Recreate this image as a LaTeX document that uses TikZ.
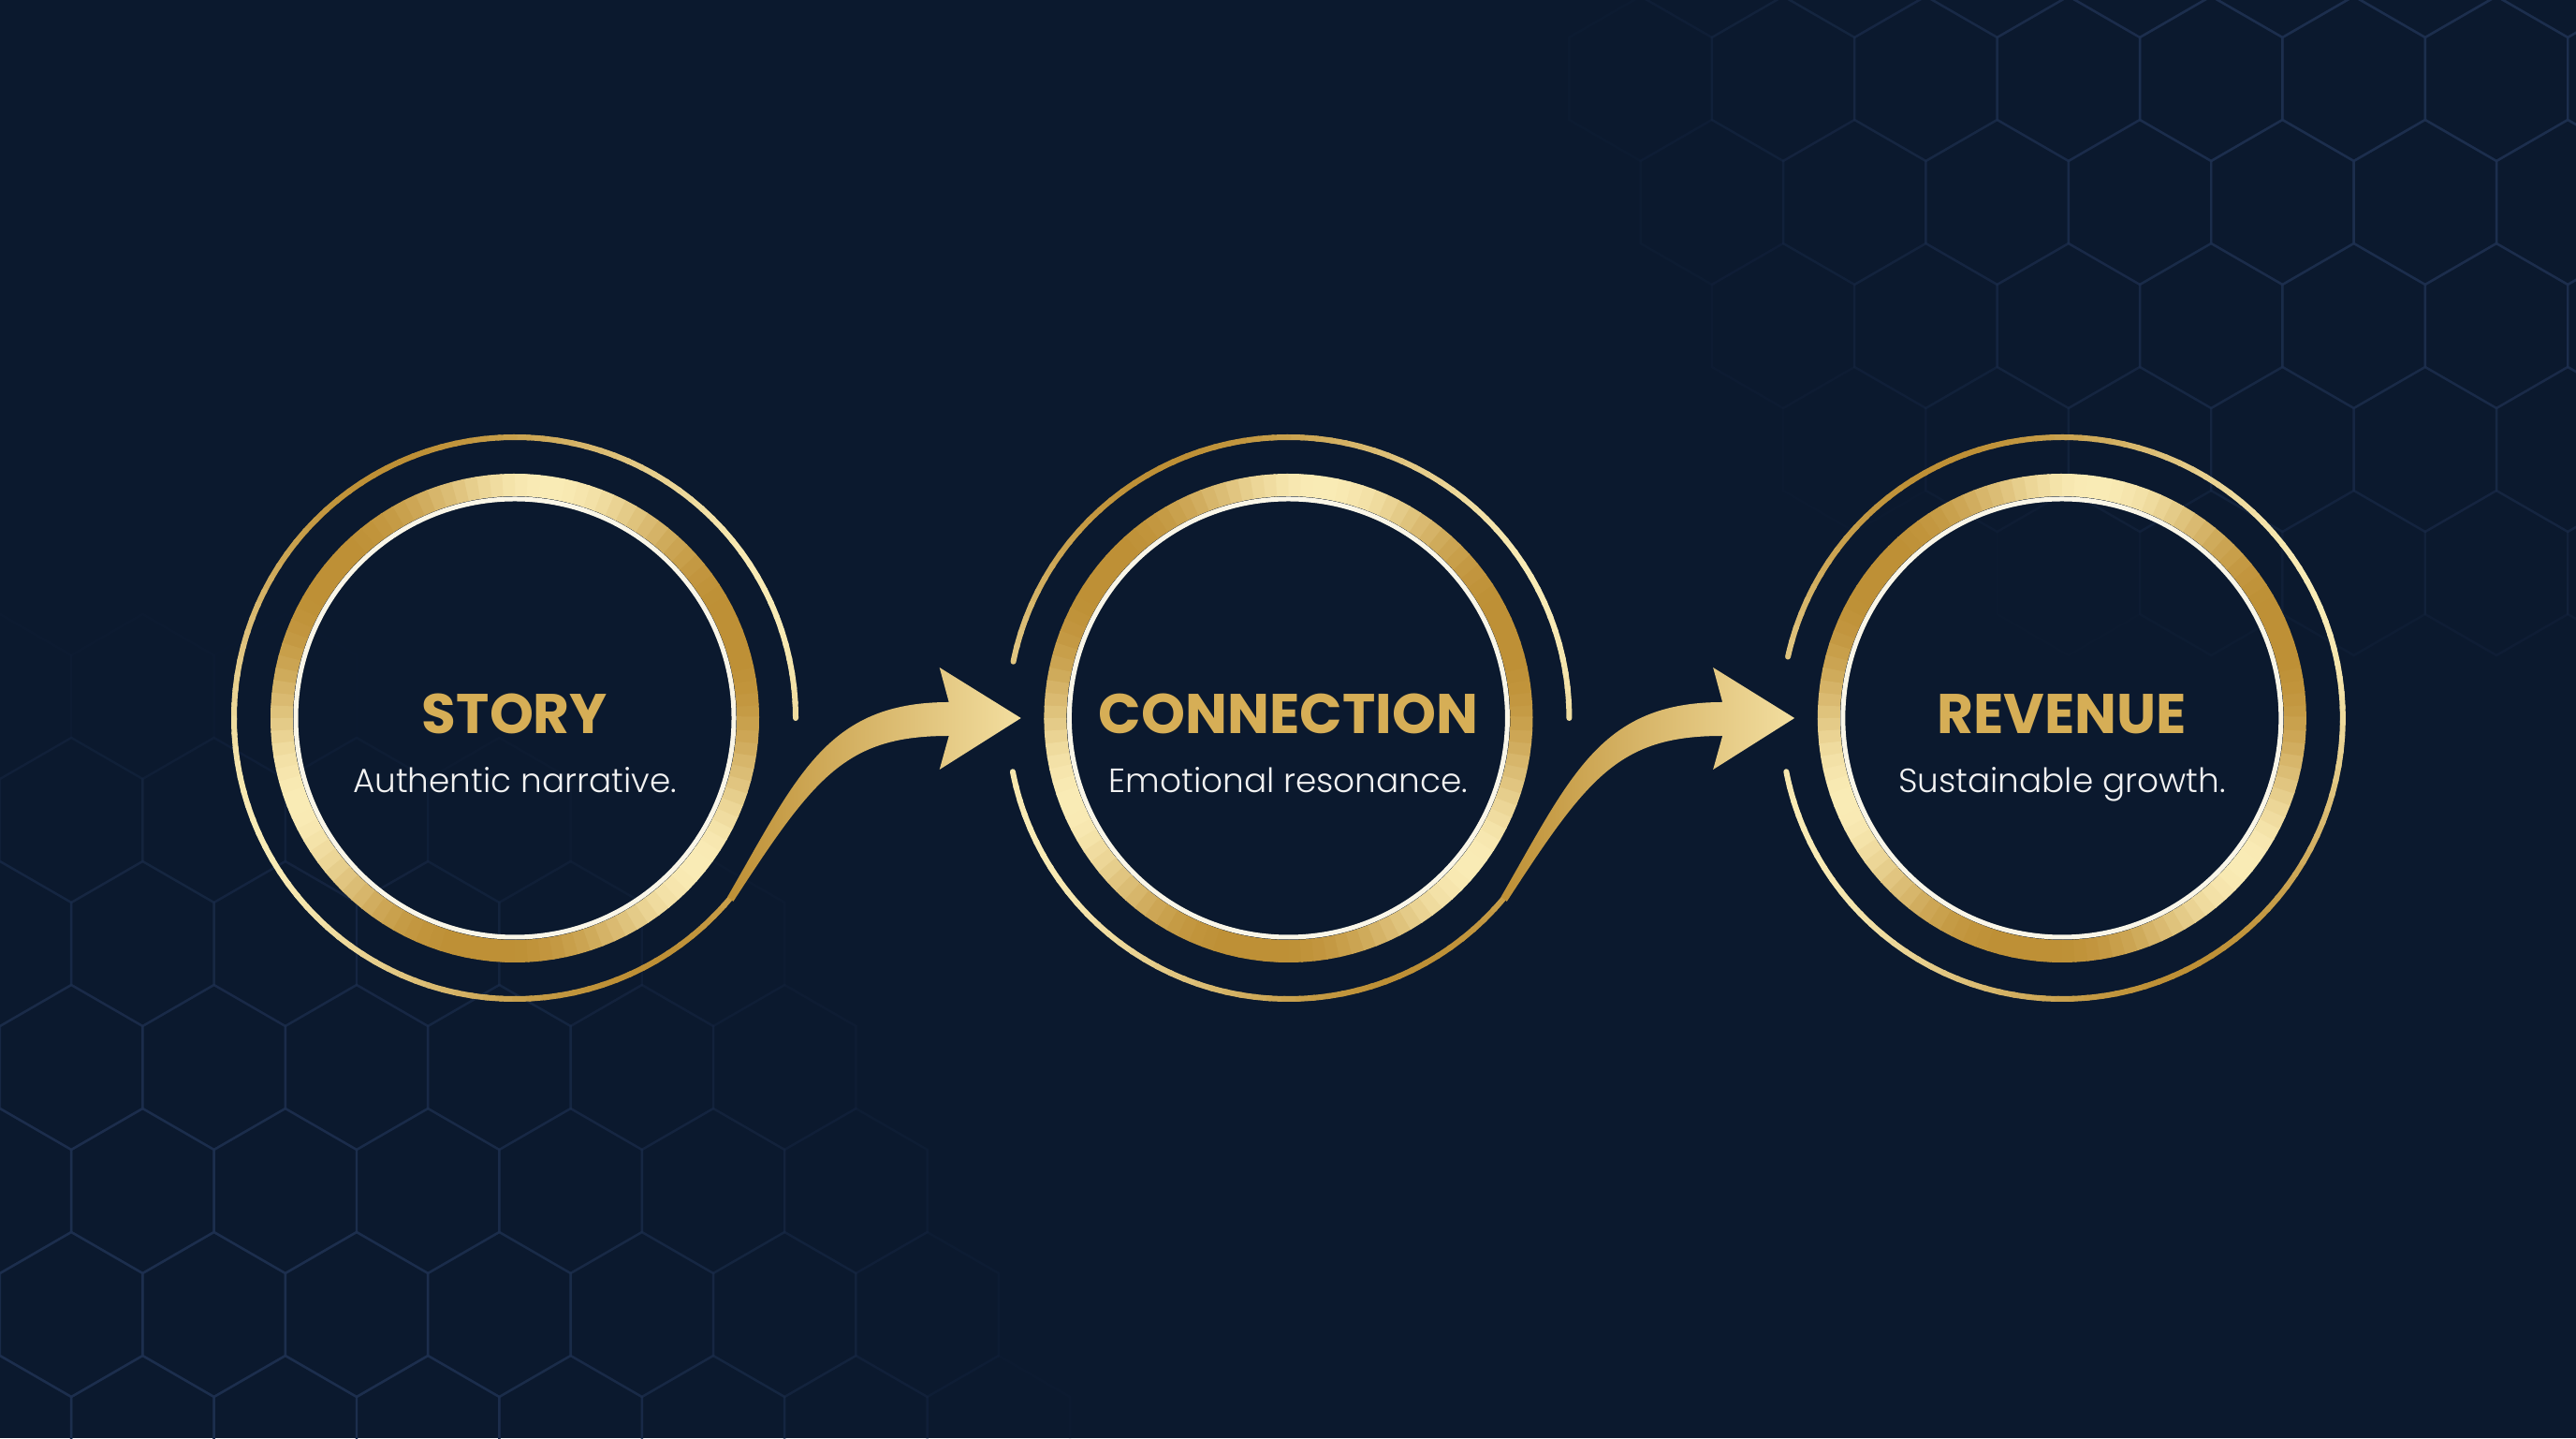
\documentclass[tikz,border=0pt]{standalone}
\usepackage{fontspec}
\setmainfont{Poppins}
\newfontfamily\titlefont{Poppins Bold}
\newfontfamily\subfont{Poppins Light}
\usetikzlibrary{positioning, calc}
\definecolor{navybg}{RGB}{11, 25, 46}
\definecolor{hexline}{RGB}{30, 48, 80}
\definecolor{golddark}{RGB}{190, 144, 54}
\definecolor{goldmid}{RGB}{220, 180, 92}
\definecolor{goldlight}{RGB}{250, 236, 182}
\definecolor{goldtext}{RGB}{214, 174, 86}
\definecolor{creamwhite}{RGB}{250, 246, 232}
\definecolor{subwhite}{RGB}{242, 242, 242}

\begin{document}
\begin{tikzpicture}[
  stage/.style={circle, minimum size=6cm, inner sep=0pt},
  stagetitle/.style={font=\titlefont\fontsize{17}{20}\selectfont, text=goldtext, anchor=base},
  stagesub/.style={font=\subfont\fontsize{10.2}{12}\selectfont, text=subwhite, anchor=base},
  ]
  % Background
  \fill[navybg] (0,0) rectangle (27.52,15.36);
  \useasboundingbox (0,0) rectangle (27.52,15.36);

  % Hexagon pattern, fading out from two corners
  \foreach \i in {0,...,18}{
    \foreach \j in {0,...,12}{
      \pgfmathsetmacro{\cx}{\i*1.524 + mod(\j,2)*0.762}
      \pgfmathsetmacro{\cy}{\j*1.32}
      \pgfmathsetmacro{\op}{min(0.75, 1.2*(max(0, 1-sqrt((\cx/11.5)^2+(\cy/8.5)^2)) + max(0, 1-sqrt(((27.52-\cx)/11)^2+((15.36-\cy)/7.5)^2))))}
      \draw[hexline, line width=0.7pt, opacity=\op] (\cx,\cy) +(30:0.88) -- +(90:0.88) -- +(150:0.88) -- +(210:0.88) -- +(270:0.88) -- +(330:0.88) -- cycle;
    }
  }

  % Stages
  \node[stage] (story) at (5.5,7.69) {};
  \node[stage, right=2.25cm of story] (connection) {};
  \node[stage, right=2.25cm of connection] (revenue) {};

  % Thick gold rings with inner white line
  \foreach \st in {story, connection, revenue}{
    \foreach \a in {0,3,...,357}{
      \pgfmathtruncatemacro{\m}{100*(0.5+0.5*cos(3*(\a-80)))^1.5}
      \draw[line width=0.24cm, goldlight!\m!golddark] ($(\st.center)+(\a:2.49)$) arc[start angle=\a, end angle=\a+3.4, radius=2.49];
    }
    \draw[creamwhite, line width=0.05cm] (\st.center) circle[radius=2.34];
  }

  % Outer thin rings (open where the arrows pass)
  \foreach \st/\from/\to in {story/0/322, connection/0/169, connection/191/322, revenue/191/529}{
    \pgfmathtruncatemacro{\n}{(\to-\from)/3-1}
    \foreach \k in {0,...,\n}{
      \pgfmathsetmacro{\a}{\from+3*\k}
      \pgfmathsetmacro{\b}{min(\a+3.4,\to)}
      \pgfmathtruncatemacro{\m}{100*(0.5+0.5*cos(2*(\a-25)))}
      \draw[line width=0.06cm, line cap=round, goldlight!\m!golddark] ($(\st.center)+(\a:3)$) arc[start angle=\a, end angle=\b, radius=3];
    }
  }

  % Curved arrows between stages
  \foreach \src/\dst in {story/connection, connection/revenue}{
    \coordinate (tail) at (\src.-40);
    \coordinate (tip) at ($(\dst.west)+(0.15,0)$);
    \shade[left color=golddark, middle color=goldmid, right color=goldlight!75!goldmid]
      ($(tail)+(140:0.04)$) .. controls +(60:1.5) and +(-1.3,0) .. ($(tip)+(-0.77,0.17)$)
      -- ($(tip)+(-0.87,0.54)$) -- (tip) -- ($(tip)+(-0.87,-0.55)$) -- ($(tip)+(-0.77,-0.19)$)
      .. controls +(-1.1,0) and +(57:1.6) .. ($(tail)+(-40:0.04)$) -- cycle;
  }

  % Labels
  \foreach \st/\ttl/\sub in {story/STORY/Authentic narrative., connection/CONNECTION/Emotional resonance., revenue/REVENUE/Sustainable growth.}{
    \node[stagetitle] (\st-title) at ($(\st.center)+(0,-0.17)$) {\ttl};
    \node[stagesub] (\st-sub) at ($(\st.center)+(0,-0.80)$) {\sub};
  }
\end{tikzpicture}
\end{document}
